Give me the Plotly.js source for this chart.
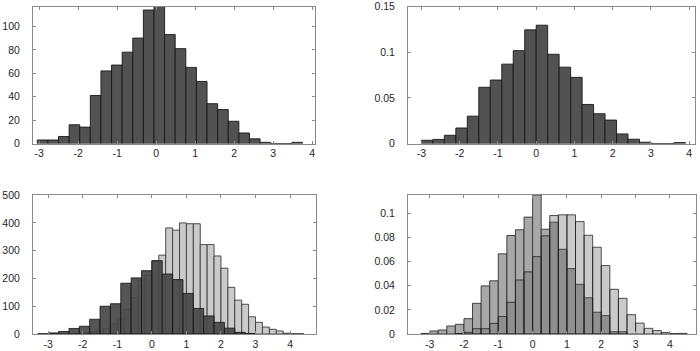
<!DOCTYPE html>
<html><head><meta charset="utf-8">
<script src="https://cdn.plot.ly/plotly-3.0.1.min.js"></script>
<style>html,body{margin:0;padding:0;background:#fff}#chart{width:700px;height:351px}</style>
</head><body><div id="chart"></div>
<script>
// ---- Data ----
// Top-left: counts, 25 bins
const tlStart = -3.05, tlWidth = 0.272;
const tlCounts = [3,3,6,16,14,41,62,67,78,90,114,117,93,81,65,53,34,29,19,9,4,1,0,0,1];
// Top-right: probability, bin width 0.3
const trStart = -3.0, trWidth = 0.3;
const trProb = [0.0035,0.0045,0.009,0.017,0.030,0.0616,0.0696,0.087,0.1018,0.1246,0.1297,0.0978,0.0837,0.0725,0.0428,0.0326,0.0257,0.0105,0.0047,0.0014,0,0,0.001];
// Bottom-left: two overlaid count histograms
const blDarkStart = -3.3, blDarkWidth = 0.3;
const blDarkCounts = [1,4,9,20,28,53,100,109,183,202,228,264,216,196,146,92,65,42,21,6,2];
const blLightStart = -2.4, blLightWidth = 0.2;
const blLightCounts = [1,3,5,8,14,19,36,56,89,131,194,212,263,284,382,374,400,397,397,322,322,281,237,168,122,107,62,42,25,17,11,3,1,1];
// Bottom-right: two overlaid probability histograms, bin width 0.25
const brAStart = -3.25, brBStart = -2.25, brWidth = 0.25;
const brAProb = [0.0005,0.0025,0.0033,0.0066,0.008,0.0127,0.0254,0.0398,0.044,0.0663,0.0815,0.0862,0.0967,0.115,0.0867,0.0925,0.0701,0.0541,0.0411,0.030,0.018,0.0152,0.0019,0.0019];
const brBProb = [0.0004,0.0014,0.0044,0.0044,0.0088,0.0144,0.0262,0.0447,0.0514,0.064,0.0812,0.098,0.0986,0.0986,0.093,0.0817,0.0718,0.0566,0.037,0.0295,0.016,0.009,0.0047,0.0028,0.0012,0.0004,0.0005];
// Tick labels
const xTickVals = [-3,-2,-1,0,1,2,3,4];
const xTickText = ['-3','-2','-1','0','1','2','3','4'];
const tlYVals = [0,20,40,60,80,100];
const tlYText = ['0','20','40','60','80','100'];
const trYVals = [0,0.05,0.1,0.15];
const trYText = ['0','0.05','0.1','0.15'];
const blYVals = [0,100,200,300,400,500];
const blYText = ['0','100','200','300','400','500'];
const brYVals = [0,0.02,0.04,0.06,0.08,0.1];
const brYText = ['0','0.02','0.04','0.06','0.08','0.1'];

function centers(start, width, n){ const c=[]; for(let i=0;i<n;i++) c.push(start+width*(i+0.5)); return c; }

function barTrace(start, width, vals, fill, line, xa, ya){
  return {type:'bar', x:centers(start,width,vals.length), y:vals, width:width,
    marker:{color:fill, line:{color:line, width:0.9}}, xaxis:xa, yaxis:ya,
    hoverinfo:'skip', showlegend:false};
}

const data = [
  barTrace(tlStart, tlWidth, tlCounts, 'rgb(82,82,82)', 'rgb(25,25,25)', 'x', 'y'),
  barTrace(trStart, trWidth, trProb, 'rgb(82,82,82)', 'rgb(25,25,25)', 'x2', 'y2'),
  barTrace(blLightStart, blLightWidth, blLightCounts, 'rgb(202,202,202)', 'rgb(60,60,60)', 'x3', 'y3'),
  barTrace(blDarkStart, blDarkWidth, blDarkCounts, 'rgba(70,70,70,0.92)', 'rgba(20,20,20,0.9)', 'x3', 'y3'),
  barTrace(brAStart, brWidth, brAProb, 'rgb(168,168,168)', 'rgb(50,50,50)', 'x4', 'y4'),
  barTrace(brBStart, brWidth, brBProb, 'rgba(90,90,90,0.32)', 'rgba(30,30,30,0.85)', 'x4', 'y4')
];

const font = {family:'"Liberation Sans", Arial, sans-serif', size:10.5, color:'#262626'};
function ax(domain, range, vals, text, anchor, standoff){
  return {domain:domain, range:range, tickmode:'array', tickvals:vals, ticktext:text,
    showline:true, linecolor:'#8a8a8a', linewidth:1, mirror:'ticks', ticks:'inside', ticklen:3,
    tickcolor:'#8a8a8a', tickwidth:1, showgrid:false, zeroline:false, tickfont:font,
    anchor:anchor, fixedrange:true, ticklabelstandoff:standoff, ticklabeloverflow:'allow'};
}
const W=700, H=351;
const dxL=[33/W, 315/W], dxR=[408/W, 695/W], dxBL=[33/W,316/W], dxBR=[408/W,696/W];
const dyT=[(H-143.5)/H, (H-6.5)/H], dyB=[(H-334)/H, (H-195)/H];

const layout = {
  width:W, height:H, margin:{l:0,r:0,t:0,b:0}, paper_bgcolor:'#fff', plot_bgcolor:'#fff',
  barmode:'overlay', bargap:0, showlegend:false, font:font,
  xaxis: ax(dxL, [-3.16,4.07], xTickVals, xTickText, 'y', 0),
  yaxis: ax(dyT, [0,117], tlYVals, tlYText, 'x', 10),
  xaxis2: ax(dxR, [-3.35,4.15], xTickVals, xTickText, 'y2', 0),
  yaxis2: ax(dyT, [0,0.1502], trYVals, trYText, 'x2', 10),
  xaxis3: ax(dxBL, [-3.44,4.75], xTickVals, xTickText, 'y3', 0),
  yaxis3: ax(dyB, [0,500.5], blYVals, blYText, 'x3', 10),
  xaxis4: ax(dxBR, [-3.63,4.76], xTickVals, xTickText, 'y4', 0),
  yaxis4: ax(dyB, [0,0.115], brYVals, brYText, 'x4', 10)
};
Plotly.newPlot('chart', data, layout, {staticPlot:true, displayModeBar:false});
</script></body></html>
